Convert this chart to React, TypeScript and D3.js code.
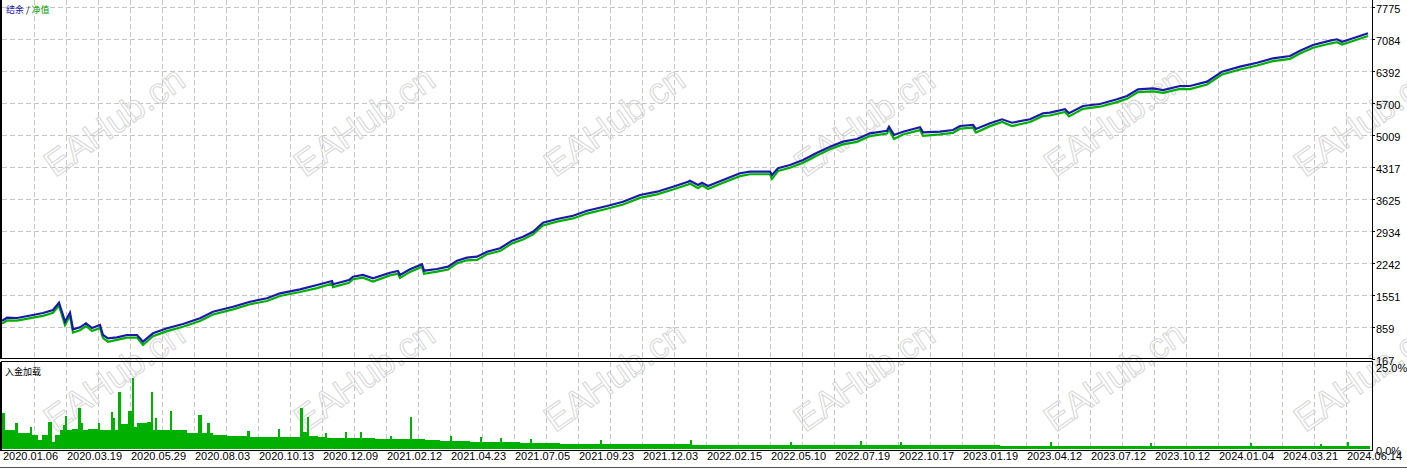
import React, { useRef, useEffect } from 'react';
import * as d3 from 'd3';

// tester graph: balance / equity on top, deposit load below
const dateLabels = [
  '2020.01.06', '2020.03.19', '2020.05.29', '2020.08.03', '2020.10.13', '2020.12.09',
  '2021.02.12', '2021.04.23', '2021.07.05', '2021.09.23', '2021.12.03', '2022.02.15',
  '2022.05.10', '2022.07.19', '2022.10.17', '2023.01.19', '2023.04.12', '2023.07.12',
  '2023.10.12', '2024.01.04', '2024.03.21', '2024.06.14',
];
const balanceTicks = [167, 859, 1551, 2242, 2934, 3625, 4317, 5009, 5700, 6392, 7084, 7775];
const loadTicks = [0, 25];
const totalDeals = 2740;
const dealsPerLabel = 128;

// [deal number, balance]
const balance = [
  [0, 995], [10, 1060], [30, 1053], [62, 1118], [82, 1161], [102, 1226], [114, 1384], [122, 1118],
  [126, 973], [136, 1168], [142, 809], [156, 852], [168, 939], [180, 837], [196, 902], [202, 686],
  [212, 614], [230, 636], [250, 686], [270, 686], [282, 541], [302, 722], [330, 831], [362, 923],
  [396, 1047], [422, 1189], [462, 1297], [496, 1405], [530, 1479], [556, 1587], [596, 1673],
  [630, 1766], [660, 1853], [662, 1782], [694, 1875], [702, 1946], [722, 1983], [742, 1911],
  [776, 2032], [792, 2069], [796, 1983], [816, 2106], [840, 2214], [844, 2076], [870, 2112],
  [892, 2162], [910, 2292], [930, 2357], [950, 2378], [970, 2486], [996, 2560], [1020, 2724],
  [1042, 2810], [1062, 2918], [1082, 3113], [1110, 3193], [1142, 3264], [1170, 3372], [1210, 3474],
  [1242, 3567], [1276, 3712], [1310, 3783], [1342, 3891], [1372, 3999], [1376, 4021], [1392, 3928],
  [1400, 3978], [1412, 3906], [1442, 4036], [1476, 4181], [1496, 4215], [1536, 4215], [1540, 4144],
  [1552, 4289], [1576, 4360], [1602, 4468], [1630, 4626], [1656, 4756], [1682, 4864], [1710, 4922],
  [1736, 5045], [1770, 5101], [1774, 5188], [1784, 5009], [1802, 5080], [1836, 5175], [1842, 5067],
  [1876, 5080], [1902, 5117], [1916, 5203], [1942, 5225], [1948, 5138], [1976, 5261], [2000, 5348],
  [2020, 5274], [2056, 5348], [2082, 5478], [2096, 5491], [2126, 5564], [2134, 5478], [2162, 5635],
  [2196, 5679], [2230, 5780], [2250, 5851], [2272, 5996], [2302, 6018], [2322, 5981], [2356, 6068],
  [2376, 6068], [2410, 6161], [2440, 6377], [2476, 6485], [2510, 6571], [2542, 6666], [2576, 6716],
  [2596, 6831], [2622, 6954], [2656, 7047], [2670, 7077], [2680, 7025], [2702, 7099], [2732, 7207],
];

// [deal number, equity]
const equity = [
  [0, 930], [10, 1000], [30, 995], [62, 1060], [82, 1100], [102, 1165], [114, 1320], [122, 1040],
  [126, 900], [136, 1100], [142, 740], [156, 790], [168, 880], [180, 770], [196, 840], [202, 620],
  [212, 540], [230, 580], [250, 630], [270, 630], [282, 470], [302, 660], [330, 770], [362, 865],
  [396, 990], [422, 1130], [462, 1240], [496, 1350], [530, 1420], [556, 1530], [596, 1615],
  [630, 1700], [660, 1795], [662, 1720], [694, 1815], [702, 1890], [722, 1925], [742, 1840],
  [776, 1975], [792, 2010], [796, 1920], [816, 2050], [840, 2160], [844, 2010], [870, 2055],
  [892, 2100], [910, 2235], [930, 2300], [950, 2310], [970, 2430], [996, 2500], [1020, 2665],
  [1042, 2750], [1062, 2860], [1082, 3055], [1110, 3135], [1142, 3205], [1170, 3310], [1210, 3415],
  [1242, 3505], [1276, 3650], [1310, 3725], [1342, 3830], [1372, 3940], [1376, 3960], [1392, 3860],
  [1400, 3920], [1412, 3840], [1442, 3975], [1476, 4120], [1496, 4160], [1536, 4160], [1540, 4060],
  [1552, 4230], [1576, 4300], [1602, 4410], [1630, 4565], [1656, 4700], [1682, 4805], [1710, 4860],
  [1736, 4985], [1770, 5040], [1774, 5130], [1784, 4920], [1802, 5020], [1836, 5115], [1842, 4990],
  [1876, 5020], [1902, 5055], [1916, 5145], [1942, 5165], [1948, 5060], [1976, 5200], [2000, 5290],
  [2020, 5200], [2056, 5290], [2082, 5420], [2096, 5430], [2126, 5505], [2134, 5410], [2162, 5575],
  [2196, 5620], [2230, 5720], [2250, 5790], [2272, 5935], [2302, 5950], [2322, 5920], [2356, 6005],
  [2376, 6000], [2410, 6100], [2440, 6315], [2476, 6425], [2510, 6510], [2542, 6605], [2576, 6655],
  [2596, 6770], [2622, 6895], [2656, 6985], [2670, 7015], [2680, 6965], [2702, 7040], [2732, 7150],
];

// [deal number, deposit load %]
const depositLoad = [
  [0, 10.9], [6, 5.7], [26, 7.9], [32, 4.9], [56, 6.6], [60, 4.2], [72, 2.7], [80, 4.2], [92, 8.2],
  [100, 2.2], [106, 4.2], [116, 5.7], [122, 7.2], [126, 10], [130, 5.7], [140, 6.1], [152, 12.5],
  [158, 7.7], [162, 5.7], [172, 6.1], [192, 7.9], [196, 5.7], [218, 11], [222, 9.2], [226, 5.7],
  [232, 17.1], [238, 7.5], [252, 11.3], [260, 21.3], [264, 6.6], [270, 7.7], [290, 8.2], [298, 17.1],
  [302, 5.8], [306, 9.4], [310, 5.8], [336, 11.3], [340, 5.6], [370, 4.9], [392, 10.1], [400, 4.9],
  [410, 7.7], [416, 4.9], [422, 4.2], [450, 3.9], [490, 5.5], [496, 3.7], [552, 5.9], [556, 3.6],
  [596, 12.3], [602, 5.0], [610, 9.6], [614, 4.0], [632, 3.6], [646, 4.8], [650, 3.4], [686, 5.2],
  [690, 3.3], [716, 5.0], [720, 3.3], [746, 3.0], [776, 4.0], [780, 3.0], [816, 9.6], [820, 3.0],
  [846, 2.6], [876, 2.4], [896, 3.9], [900, 2.4], [936, 2.2], [956, 3.6], [960, 2.2], [996, 3.3],
  [1000, 2.0], [1036, 1.8], [1056, 3.0], [1060, 1.8], [1116, 1.6], [1196, 2.7], [1200, 1.6],
  [1276, 1.4], [1376, 2.6], [1380, 1.3], [1476, 1.3], [1576, 2.2], [1580, 1.2], [1716, 2.3],
  [1720, 1.2], [1796, 2.2], [1800, 1.1], [1896, 1.1], [1996, 1.0], [2096, 2.0], [2100, 0.9],
  [2196, 0.9], [2296, 1.9], [2300, 0.9], [2396, 0.9], [2496, 1.8], [2500, 0.9], [2596, 0.9],
  [2636, 1.6], [2640, 0.9], [2690, 2.2], [2694, 0.9], [2736, 0.9],
];

const FONT = "'Liberation Sans Narrow', 'Liberation Sans', Arial, sans-serif";
const CJK = "'Noto Sans CJK SC', sans-serif";

const TesterGraph = ({ width, height }) => {
  const svgRef = useRef(null);

  useEffect(() => {
    if (!svgRef.current) return;
    const svg = d3.select(svgRef.current);
    svg.selectAll('*').remove();

    const left = 2, right = 1372;
    const mainTop = 0, mainBottom = 358.5;
    const lowTop = 361.5, lowBottom = 450.5;

    const x = d3.scaleLinear().domain([0, totalDeals]).range([left, right]);
    const y = d3.scaleLinear().domain([balanceTicks[0], balanceTicks[balanceTicks.length - 1]]).range([359, 7]);
    const yl = d3.scaleLinear().domain([loadTicks[0], loadTicks[1]]).range([449, 366]);

    svg.append('rect').attr('width', width).attr('height', height).attr('fill', '#fff');

    // grid
    const grid = svg.append('g').attr('stroke', '#c4c4c4').attr('stroke-dasharray', '5,3')
      .attr('shape-rendering', 'crispEdges');
    d3.range(dealsPerLabel / 2, totalDeals, dealsPerLabel / 2).forEach(d => {
      const gx = Math.round(x(d)) + 0.5;
      grid.append('line').attr('x1', gx).attr('x2', gx).attr('y1', mainTop).attr('y2', mainBottom);
      grid.append('line').attr('x1', gx).attr('x2', gx).attr('y1', lowTop).attr('y2', lowBottom);
    });
    balanceTicks.slice(1).forEach(v => {
      const gy = Math.round(y(v)) + 0.5;
      grid.append('line').attr('x1', left).attr('x2', right).attr('y1', gy).attr('y2', gy);
    });

    // watermark
    const wm = svg.append('g').attr('fill', 'none').attr('stroke', '#d6d6d6').attr('stroke-width', 1);
    [178, 433].forEach(wy => {
      d3.range(6).forEach(i => {
        wm.append('text')
          .attr('transform', `translate(${55 + i * 250},${wy}) rotate(-35)`)
          .attr('font-family', "'Liberation Sans', Arial, sans-serif")
          .attr('font-size', 36)
          .text('EAHub.cn');
      });
    });

    // clip
    svg.append('clipPath').attr('id', 'mainClip').append('rect')
      .attr('x', left).attr('y', mainTop).attr('width', right - left).attr('height', mainBottom - mainTop);

    const line = d3.line().x(d => x(d[0])).y(d => y(d[1]));
    svg.append('path').datum(equity).attr('clip-path', 'url(#mainClip)')
      .attr('d', line).attr('fill', 'none').attr('stroke', '#00b000').attr('stroke-width', 2.2)
      .attr('stroke-linejoin', 'miter');
    svg.append('path').datum(balance).attr('clip-path', 'url(#mainClip)')
      .attr('d', line).attr('fill', 'none').attr('stroke', '#1a1aa8').attr('stroke-width', 2.2)
      .attr('stroke-linejoin', 'miter');

    // deposit load
    const area = d3.area().curve(d3.curveStepAfter)
      .x(d => x(d[0])).y0(yl(0)).y1(d => yl(d[1]));
    svg.append('path').datum(depositLoad).attr('d', area).attr('fill', '#00b000')
      .attr('shape-rendering', 'crispEdges');

    // frames
    const frames = svg.append('g').attr('fill', 'none').attr('stroke', '#000')
      .attr('shape-rendering', 'crispEdges');
    frames.append('rect').attr('x', 1.5).attr('y', -1.5).attr('width', right - 1).attr('height', mainBottom + 1);
    frames.append('rect').attr('x', 1.5).attr('y', lowTop).attr('width', right - 1).attr('height', lowBottom - lowTop);
    frames.append('line').attr('x1', 0.5).attr('x2', 0.5).attr('y1', 0).attr('y2', mainBottom);
    frames.append('line').attr('x1', 0.5).attr('x2', 0.5).attr('y1', lowTop).attr('y2', lowBottom);
    svg.append('line').attr('x1', 0).attr('x2', width).attr('y1', 467.5).attr('y2', 467.5)
      .attr('stroke', '#505050').attr('shape-rendering', 'crispEdges');

    // right axis
    const ax = svg.append('g').attr('font-family', FONT).attr('font-size', 11).attr('fill', '#000');
    balanceTicks.forEach(v => {
      const gy = Math.round(y(v)) + 0.5;
      ax.append('line').attr('x1', right).attr('x2', right + 3).attr('y1', gy).attr('y2', gy)
        .attr('stroke', '#000').attr('shape-rendering', 'crispEdges');
      ax.append('text').attr('x', right + 4).attr('y', gy + 5.5).text(d3.format('d')(v));
    });
    loadTicks.forEach(v => {
      const gy = Math.round(yl(v)) + 0.5;
      ax.append('text').attr('x', right + 4).attr('y', gy + 5.5).text(d3.format('.1f')(v) + '%');
    });

    // date axis
    d3.range(dateLabels.length).forEach(i => {
      const tx = x(i * dealsPerLabel);
      ax.append('text').attr('x', tx + 1).attr('y', 460).text(dateLabels[i]);
    });

    // titles
    const t = svg.append('text').attr('x', 6).attr('y', 12.5).attr('font-family', CJK).attr('font-size', 9);
    t.append('tspan').attr('fill', '#1a1aa8').text('结余');
    t.append('tspan').attr('fill', '#000').text(' / ');
    t.append('tspan').attr('fill', '#00a000').text('净值');
    svg.append('text').attr('x', 5).attr('y', 374.5).attr('font-family', CJK).attr('font-size', 9)
      .attr('fill', '#000').text('入金加载');
  }, [width, height]);

  return <svg ref={svgRef} width={width} height={height} style={{ position: 'absolute', left: 0, top: 0 }}></svg>;
};

export default function App() {
  return <TesterGraph width={1407} height={470} />;
}
